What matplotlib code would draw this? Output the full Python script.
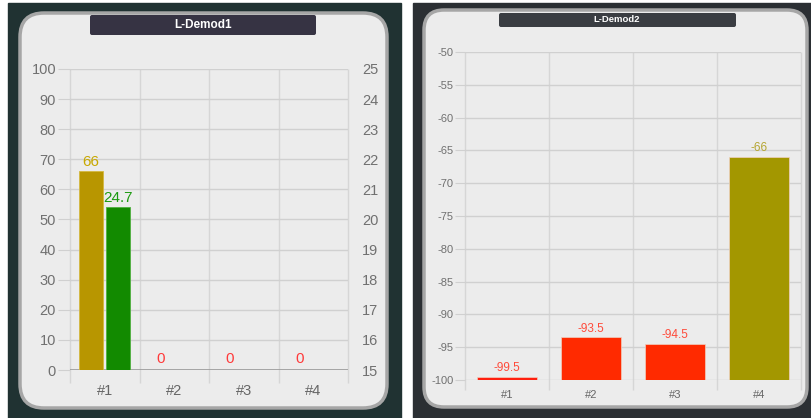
import matplotlib.pyplot as plt
from matplotlib.patches import FancyBboxPatch, Rectangle

plt.rcParams['font.family'] = ['Liberation Sans', 'DejaVu Sans']
plt.rcParams['axes.unicode_minus'] = False

W, H = 812, 418

# panel 1 data
cats = ['#1', '#2', '#3', '#4']
gold_vals = [66, 0, 0, 0]
gold_labels = ['66', '0', '0', '0']
green_vals = [20.4, 15, 15, 15]   # drawn on right axis (15..25)
green_labels = ['24.7', '', '', '']

# panel 2 data
demod2_vals = [-99.5, -93.5, -94.5, -66]
demod2_colors = ['#ff1f0f', '#ff2a00', '#ff2a00', '#a39700']
demod2_label_colors = ['#ff4a3a', '#ff4a3a', '#ff4a3a', '#b5a530']

fig = plt.figure(figsize=(W / 100, H / 100), dpi=100, facecolor='white')

# background in pixel coordinates
bg = fig.add_axes([0, 0, 1, 1])
bg.set_xlim(0, W)
bg.set_ylim(H, 0)
bg.axis('off')
bg.add_patch(Rectangle((8, 3), 393, 420, color='#203232'))
bg.add_patch(Rectangle((413, 3), 400, 420, color='#2b2f33'))
bg.add_patch(FancyBboxPatch((20, 13), 367, 395, boxstyle='round,pad=0,rounding_size=24',
                            fc='#ececec', ec='#a6a6a6', lw=2.5))
bg.add_patch(FancyBboxPatch((424, 10), 383, 397, boxstyle='round,pad=0,rounding_size=20',
                            fc='#ececec', ec='#a6a6a6', lw=2.5))
bg.add_patch(FancyBboxPatch((90, 15), 226, 20, boxstyle='round,pad=0,rounding_size=2',
                            fc='#363343', ec='none'))
bg.text(203, 25, 'L-Demod1', color='white', fontsize=8.5, fontweight='bold', ha='center', va='center')
bg.add_patch(FancyBboxPatch((499, 13), 237, 14, boxstyle='round,pad=0,rounding_size=2',
                            fc='#3a3d42', ec='none'))
bg.text(617, 20, 'L-Demod2', color='white', fontsize=6.8, fontweight='bold', ha='center', va='center')


def px_axes(x0, y0, x1, y1):
    return fig.add_axes([x0 / W, (H - y1) / H, (x1 - x0) / W, (y1 - y0) / H])


def style(ax, ext):
    ax.set_facecolor('none')
    for s in ax.spines.values():
        s.set_visible(False)
    ax.grid(axis='y', color='#d0d0d0', lw=1)
    ax.set_axisbelow(True)
    ax.vlines([-0.5, 0.5, 1.5, 2.5, 3.5], -ext, 1, transform=ax.get_xaxis_transform(),
              colors='#d6d6d6', lw=1, clip_on=False, zorder=0)


# ---- panel 1 ----
ax = px_axes(70, 69, 348, 370)
style(ax, 0.043)
xs = range(len(cats))
ax.set_xlim(-0.5, 3.5)
ax.set_ylim(0, 100)
ax.set_yticks(range(0, 101, 10))
ax.tick_params(axis='y', colors='#d0d0d0', labelcolor='#707070', labelsize=10.5, length=9, pad=1)
ax.set_xticks(list(xs))
ax.set_xticklabels(cats)
ax.tick_params(axis='x', length=0, labelcolor='#666666', labelsize=10.5, pad=10)
ax.axhline(0, color='#9a9a9a', lw=1.2)
gx = [i - 0.2 for i in xs]
ax.bar(gx, gold_vals, width=0.35, color='#b89600', ec='#d4b840', lw=0.6, zorder=2)
for x, v, t in zip(gx, gold_vals, gold_labels):
    c = '#c8a800' if v > 0 else '#ff3a3a'
    ax.annotate(t, (x, v), xytext=(0, 2 if v > 0 else 3), textcoords='offset points',
                ha='center', va='bottom', color=c, fontsize=11)

ax2 = ax.twinx()
ax2.set_ylim(15, 25)
ax2.set_yticks(range(15, 26))
for s in ax2.spines.values():
    s.set_visible(False)
ax2.tick_params(axis='y', length=0, labelcolor='#707070', labelsize=10.5, pad=10)
grx = [i + 0.19 for i in xs]
ax2.bar(grx, [v - 15 for v in green_vals], bottom=15, width=0.35, color='#128a00',
        ec='#50b040', lw=0.6, zorder=2)
for x, v, t in zip(grx, green_vals, green_labels):
    if t:
        ax2.annotate(t, (x, v), xytext=(0, 2), textcoords='offset points',
                     ha='center', va='bottom', color='#1c9a10', fontsize=11)

# ---- panel 2 ----
bx = px_axes(465, 52, 801, 380)
style(bx, 0.03)
bx.set_xlim(-0.5, 3.5)
bx.set_ylim(-100, -50)
bx.set_yticks(range(-100, -49, 5))
bx.tick_params(axis='y', colors='#d0d0d0', labelcolor='#707070', labelsize=8, length=7, pad=1)
bx.set_xticks(list(xs))
bx.set_xticklabels(cats)
bx.tick_params(axis='x', length=0, labelcolor='#666666', labelsize=8, pad=7)
bx.bar(list(xs), [v + 100 for v in demod2_vals], bottom=-100, width=0.71,
       color=demod2_colors, ec='#f0d0c0', lw=0.5, zorder=2)
for x, v, c in zip(xs, demod2_vals, demod2_label_colors):
    bx.annotate(f'{v:g}', (x, v), xytext=(0, 2), textcoords='offset points',
                ha='center', va='bottom', color=c, fontsize=8.5)

fig.savefig('out.png', dpi=100, facecolor='white')
